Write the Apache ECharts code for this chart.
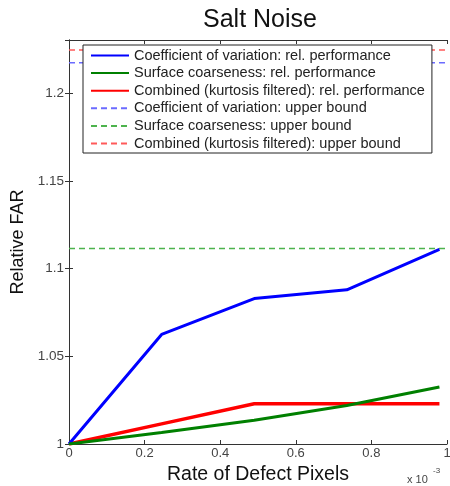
<!DOCTYPE html>
<html>
<head>
<meta charset="utf-8">
<script src="https://cdn.jsdelivr.net/npm/echarts@6/dist/echarts.min.js"></script>
<style>html,body{margin:0;padding:0;background:#fff}#c{width:450px;height:486px}</style>
</head>
<body>
<div id="c"></div>
<script>
// x values in units of 1e-3
const xValues = [0, 0.245, 0.49, 0.735, 0.98];
const cvPerf = [1, 1.0625, 1.083, 1.088, 1.111];
const scPerf = [1, 1.0065, 1.0135, 1.022, 1.0325];
const combPerf = [1, 1.0115, 1.023, 1.023, 1.023];
const cvUpper = 1.2175;
const scUpper = 1.1115;
const combUpper = 1.2248;
const boundX = [0, 1];
const seriesNames = [
  'Coefficient of variation: rel. performance',
  'Surface coarseness: rel. performance',
  'Combined (kurtosis filtered): rel. performance',
  'Coefficient of variation: upper bound',
  'Surface coarseness: upper bound',
  'Combined (kurtosis filtered): upper bound'
];
const yTicks = [1, 1.05, 1.1, 1.15, 1.2];
const xTicks = [0, 0.2, 0.4, 0.6, 0.8, 1];

const pair = (xs, ys) => xs.map((x, i) => [x, ys[i]]);
const flat = (v) => boundX.map(x => [x, v]);
const FONT = 'Liberation Sans';
const axisCol = '#333';
const labelCol = '#444';

const chart = echarts.init(document.getElementById('c'), null, {renderer: 'canvas'});
const yFmt = v => { const m = yTicks.find(t => Math.abs(t - v) < 1e-6); return m === undefined ? '' : String(m); };
const xFmt = v => { const m = xTicks.find(t => Math.abs(t - v) < 1e-6); return m === undefined ? '' : String(m); };

chart.setOption({
  animation: false,
  backgroundColor: '#fff',
  title: {
    text: 'Salt Noise', left: 255, top: 3, textAlign: 'center',
    textStyle: {fontFamily: FONT, fontWeight: 'normal', fontSize: 25, color: '#111'}
  },
  legend: {
    orient: 'vertical', left: 83, top: 45,
    backgroundColor: '#fff', borderColor: '#222', borderWidth: 1,
    padding: [2, 7, 1, 7],
    itemWidth: 38, itemHeight: 12, itemGap: 0.6,
    itemStyle: {opacity: 0},
    textStyle: {fontFamily: FONT, fontSize: 14.5, lineHeight: 17, color: '#222'},
    data: seriesNames
  },
  grid: {left: 69, right: 3, top: 40, bottom: 42, show: false, outerBoundsMode: 'none', containLabel: false},
  xAxis: [{
    type: 'value', min: 0, max: 1, interval: 0.2,
    name: 'Rate of Defect Pixels', nameLocation: 'middle', nameGap: 11,
    nameTextStyle: {fontFamily: FONT, fontSize: 19.5, color: '#111'},
    axisLine: {show: true, lineStyle: {color: axisCol, width: 1}},
    axisTick: {show: true, inside: true, length: 4, lineStyle: {color: axisCol}},
    axisLabel: {fontFamily: FONT, fontSize: 13, color: labelCol, margin: 3, formatter: xFmt},
    splitLine: {show: false}
  }, {
    type: 'value', min: 0, max: 1, interval: 0.2, position: 'top',
    axisLine: {show: true, lineStyle: {color: axisCol, width: 1}},
    axisTick: {show: true, inside: true, length: 4, lineStyle: {color: axisCol}},
    axisLabel: {show: false}, splitLine: {show: false}
  }],
  yAxis: [{
    type: 'value', min: 1, max: 1.2305, interval: 0.05,
    name: 'Relative FAR', nameLocation: 'middle', nameGap: 42,
    nameTextStyle: {fontFamily: FONT, fontSize: 18, color: '#111'},
    axisLine: {show: true, lineStyle: {color: axisCol, width: 1}},
    axisTick: {show: true, inside: true, length: 4, lineStyle: {color: axisCol}},
    axisLabel: {fontFamily: FONT, fontSize: 13.5, color: labelCol, margin: 5, formatter: yFmt},
    splitLine: {show: false}
  }, {
    type: 'value', min: 1, max: 1.2305, interval: 0.05, position: 'right',
    axisLine: {show: true, lineStyle: {color: axisCol, width: 1}},
    axisTick: {show: true, inside: true, length: 4, lineStyle: {color: axisCol}},
    axisLabel: {show: false}, splitLine: {show: false}
  }],
  graphic: [
    {type: 'text', left: 407, top: 474, style: {text: 'x 10', fontFamily: FONT, fontSize: 11, fill: labelCol}},
    {type: 'text', left: 433, top: 467, style: {text: '-3', fontFamily: FONT, fontSize: 8, fill: labelCol}}
  ],
  series: [
    {name: seriesNames[0], type: 'line', data: pair(xValues, cvPerf), symbol: 'none', lineStyle: {color: '#0000ff', width: 3}, itemStyle: {color: '#0000ff'}, z: 3},
    {name: seriesNames[1], type: 'line', data: pair(xValues, scPerf), symbol: 'none', lineStyle: {color: '#008000', width: 3}, itemStyle: {color: '#008000'}, z: 3},
    {name: seriesNames[2], type: 'line', data: pair(xValues, combPerf), symbol: 'none', lineStyle: {color: '#ff0000', width: 3.5}, itemStyle: {color: '#ff0000'}, z: 2},
    {name: seriesNames[3], type: 'line', data: flat(cvUpper), symbol: 'none', lineStyle: {color: '#6b6bff', width: 1.5, type: [6, 4]}, itemStyle: {color: '#6b6bff'}, z: 1},
    {name: seriesNames[4], type: 'line', data: flat(scUpper), symbol: 'none', lineStyle: {color: '#4db34d', width: 1.5, type: [6, 4]}, itemStyle: {color: '#4db34d'}, z: 1},
    {name: seriesNames[5], type: 'line', data: flat(combUpper), symbol: 'none', lineStyle: {color: '#ff5a5a', width: 1.5, type: [6, 4]}, itemStyle: {color: '#ff5a5a'}, z: 1}
  ]
});
</script>
</body>
</html>
